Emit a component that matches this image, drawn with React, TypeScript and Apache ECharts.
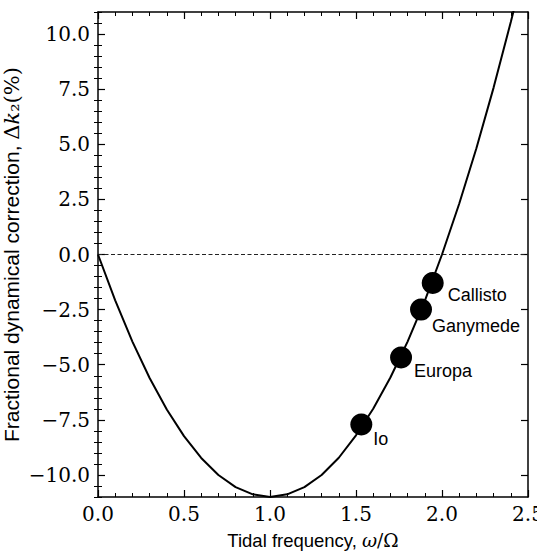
import React, { useEffect, useRef } from 'react';
import * as echarts from 'echarts';

// Curve: tidal frequency ω/Ω vs Δk2 (%)
const freq = [0, 0.1, 0.2, 0.3, 0.4, 0.5, 0.6, 0.7, 0.8, 0.9, 1.0, 1.1, 1.2, 1.3, 1.4, 1.5, 1.6, 1.7, 1.8, 1.9, 2.0, 2.1, 2.2, 2.3, 2.4, 2.45];
const dk2 = [0, -2.08, -3.95, -5.6, -7.03, -8.24, -9.23, -10.0, -10.55, -10.88, -11.0, -10.88, -10.55, -10.0, -9.22, -8.2, -7.0, -5.58, -3.95, -2.1, 0.0, 2.3, 4.82, 7.57, 10.55, 12.1];

// Galilean moons
const moonNames = ['Io', 'Europa', 'Ganymede', 'Callisto'];
const moonFreq = [1.531, 1.762, 1.878, 1.946];
const moonDk2 = [-7.71, -4.67, -2.5, -1.29];

// Ticks
const yMajorTicks = [-10, -7.5, -5, -2.5, 0, 2.5, 5, 7.5, 10];

// label placement (px, relative to marker box) – styling only
const labelOffsets = [[23, 26], [24, 25], [22, 27], [26, 23]];

const X_MIN = 0, X_MAX = 2.5, Y_MIN = -11, Y_MAX = 11;

const yMinorTicks: number[] = [];
for (let v = -11; v <= 11.001; v += 0.5) {
  if (!yMajorTicks.includes(v)) yMinorTicks.push(v);
}

const fmt = (v: number) => v.toFixed(1).replace('-', '\u2212');

export default function App() {
  const ref = useRef<HTMLDivElement>(null);
  useEffect(() => {
    if (!ref.current) return;
    const chart = echarts.init(ref.current, undefined, { renderer: 'svg' });
    const black = '#000';
    const serif = 'DejaVu Serif';
    const sans = 'Liberation Sans';
    const majorY = (pos: 'left' | 'right', withLabels: boolean, name?: string) => ({
      type: 'value', position: pos, min: Y_MIN, max: Y_MAX,
      axisLine: { show: true, onZero: false, lineStyle: { color: black, width: 1.5 } },
      axisTick: { show: true, inside: true, length: 7, customValues: yMajorTicks, lineStyle: { color: black, width: 1.2 } },
      axisLabel: withLabels
        ? { show: true, customValues: yMajorTicks, formatter: (v: number) => fmt(v), fontFamily: serif, fontSize: 20, color: black, margin: 8 }
        : { show: false },
      splitLine: { show: false },
      ...(name ? {
        name, nameLocation: 'middle', nameGap: 76, nameMoveOverlap: false,
        nameTextStyle: {
          color: black,
          rich: {
            t: { fontFamily: sans, fontSize: 21, lineHeight: 21, color: black },
            m: { fontFamily: serif, fontSize: 21, lineHeight: 21, color: black },
            i: { fontFamily: serif, fontStyle: 'italic', fontSize: 21, lineHeight: 21, color: black },
          },
        },
      } : {}),
    });
    const minorY = (pos: 'left' | 'right') => ({
      type: 'value', position: pos, min: Y_MIN, max: Y_MAX,
      axisLine: { show: false },
      axisTick: { show: true, inside: true, length: 4, customValues: yMinorTicks, lineStyle: { color: black, width: 1 } },
      axisLabel: { show: false },
      splitLine: { show: false },
    });
    const xAx = (pos: 'bottom' | 'top', withLabels: boolean) => ({
      type: 'value', position: pos, min: X_MIN, max: X_MAX, interval: 0.5,
      axisLine: { show: true, onZero: false, lineStyle: { color: black, width: 1.5 } },
      axisTick: { show: true, inside: true, length: 7, lineStyle: { color: black, width: 1.2 } },
      minorTick: { show: true, splitNumber: 5, length: 4, lineStyle: { color: black, width: 1 } },
      axisLabel: withLabels
        ? { show: true, formatter: (v: number) => fmt(v), fontFamily: serif, fontSize: 20, color: black, margin: 7, alignMinLabel: 'center', alignMaxLabel: 'center' }
        : { show: false },
      splitLine: { show: false },
      minorSplitLine: { show: false },
      ...(withLabels ? {
        name: '{t|Tidal frequency, }{i|ω}{m|/Ω}', nameLocation: 'middle', nameGap: 34, nameMoveOverlap: false,
        nameTextStyle: {
          color: black,
          rich: {
            t: { fontFamily: sans, fontSize: 18.5, color: black },
            i: { fontFamily: serif, fontStyle: 'italic', fontSize: 18.5, color: black },
            m: { fontFamily: serif, fontSize: 18.5, color: black },
          },
        },
      } : {}),
    });

    chart.setOption({
      animation: false,
      backgroundColor: '#fff',
      grid: { left: 98, right: 9, top: 12, bottom: 58, containLabel: false, outerBoundsMode: 'none' },
      xAxis: [xAx('bottom', true), xAx('top', false)],
      yAxis: [
        majorY('left', true, '{t|Fractional dynamical correction, }{m|Δ}{i|k}{m|₂(%)}'),
        minorY('left'),
        majorY('right', false),
        minorY('right'),
      ],
      series: [
        {
          type: 'line', xAxisIndex: 0, yAxisIndex: 0, symbol: 'none', silent: true,
          data: [[X_MIN, 0], [X_MAX, 0]],
          lineStyle: { color: '#222', width: 1, type: [4, 2.5] }, z: 1,
        },
        {
          type: 'line', xAxisIndex: 0, yAxisIndex: 0, symbol: 'none', clip: true,
          data: freq.map((x, i) => [x, dk2[i]]),
          lineStyle: { color: black, width: 2 }, z: 2,
        },
        {
          type: 'scatter', xAxisIndex: 0, yAxisIndex: 0, symbol: 'circle', symbolSize: 22,
          itemStyle: { color: black, opacity: 1 }, z: 3,
          data: moonNames.map((n, i) => ({
            name: n, value: [moonFreq[i], moonDk2[i]],
            label: {
              show: true, formatter: n, position: labelOffsets[i],
              align: 'left', verticalAlign: 'middle',
              fontFamily: sans, fontSize: 18, color: black, opacity: 1,
            },
          })),
        },
      ],
    });
    return () => chart.dispose();
  }, []);
  return <div ref={ref} style={{ position: 'fixed', left: 0, top: 0, width: 537, height: 555, background: '#fff' }} />;
}
